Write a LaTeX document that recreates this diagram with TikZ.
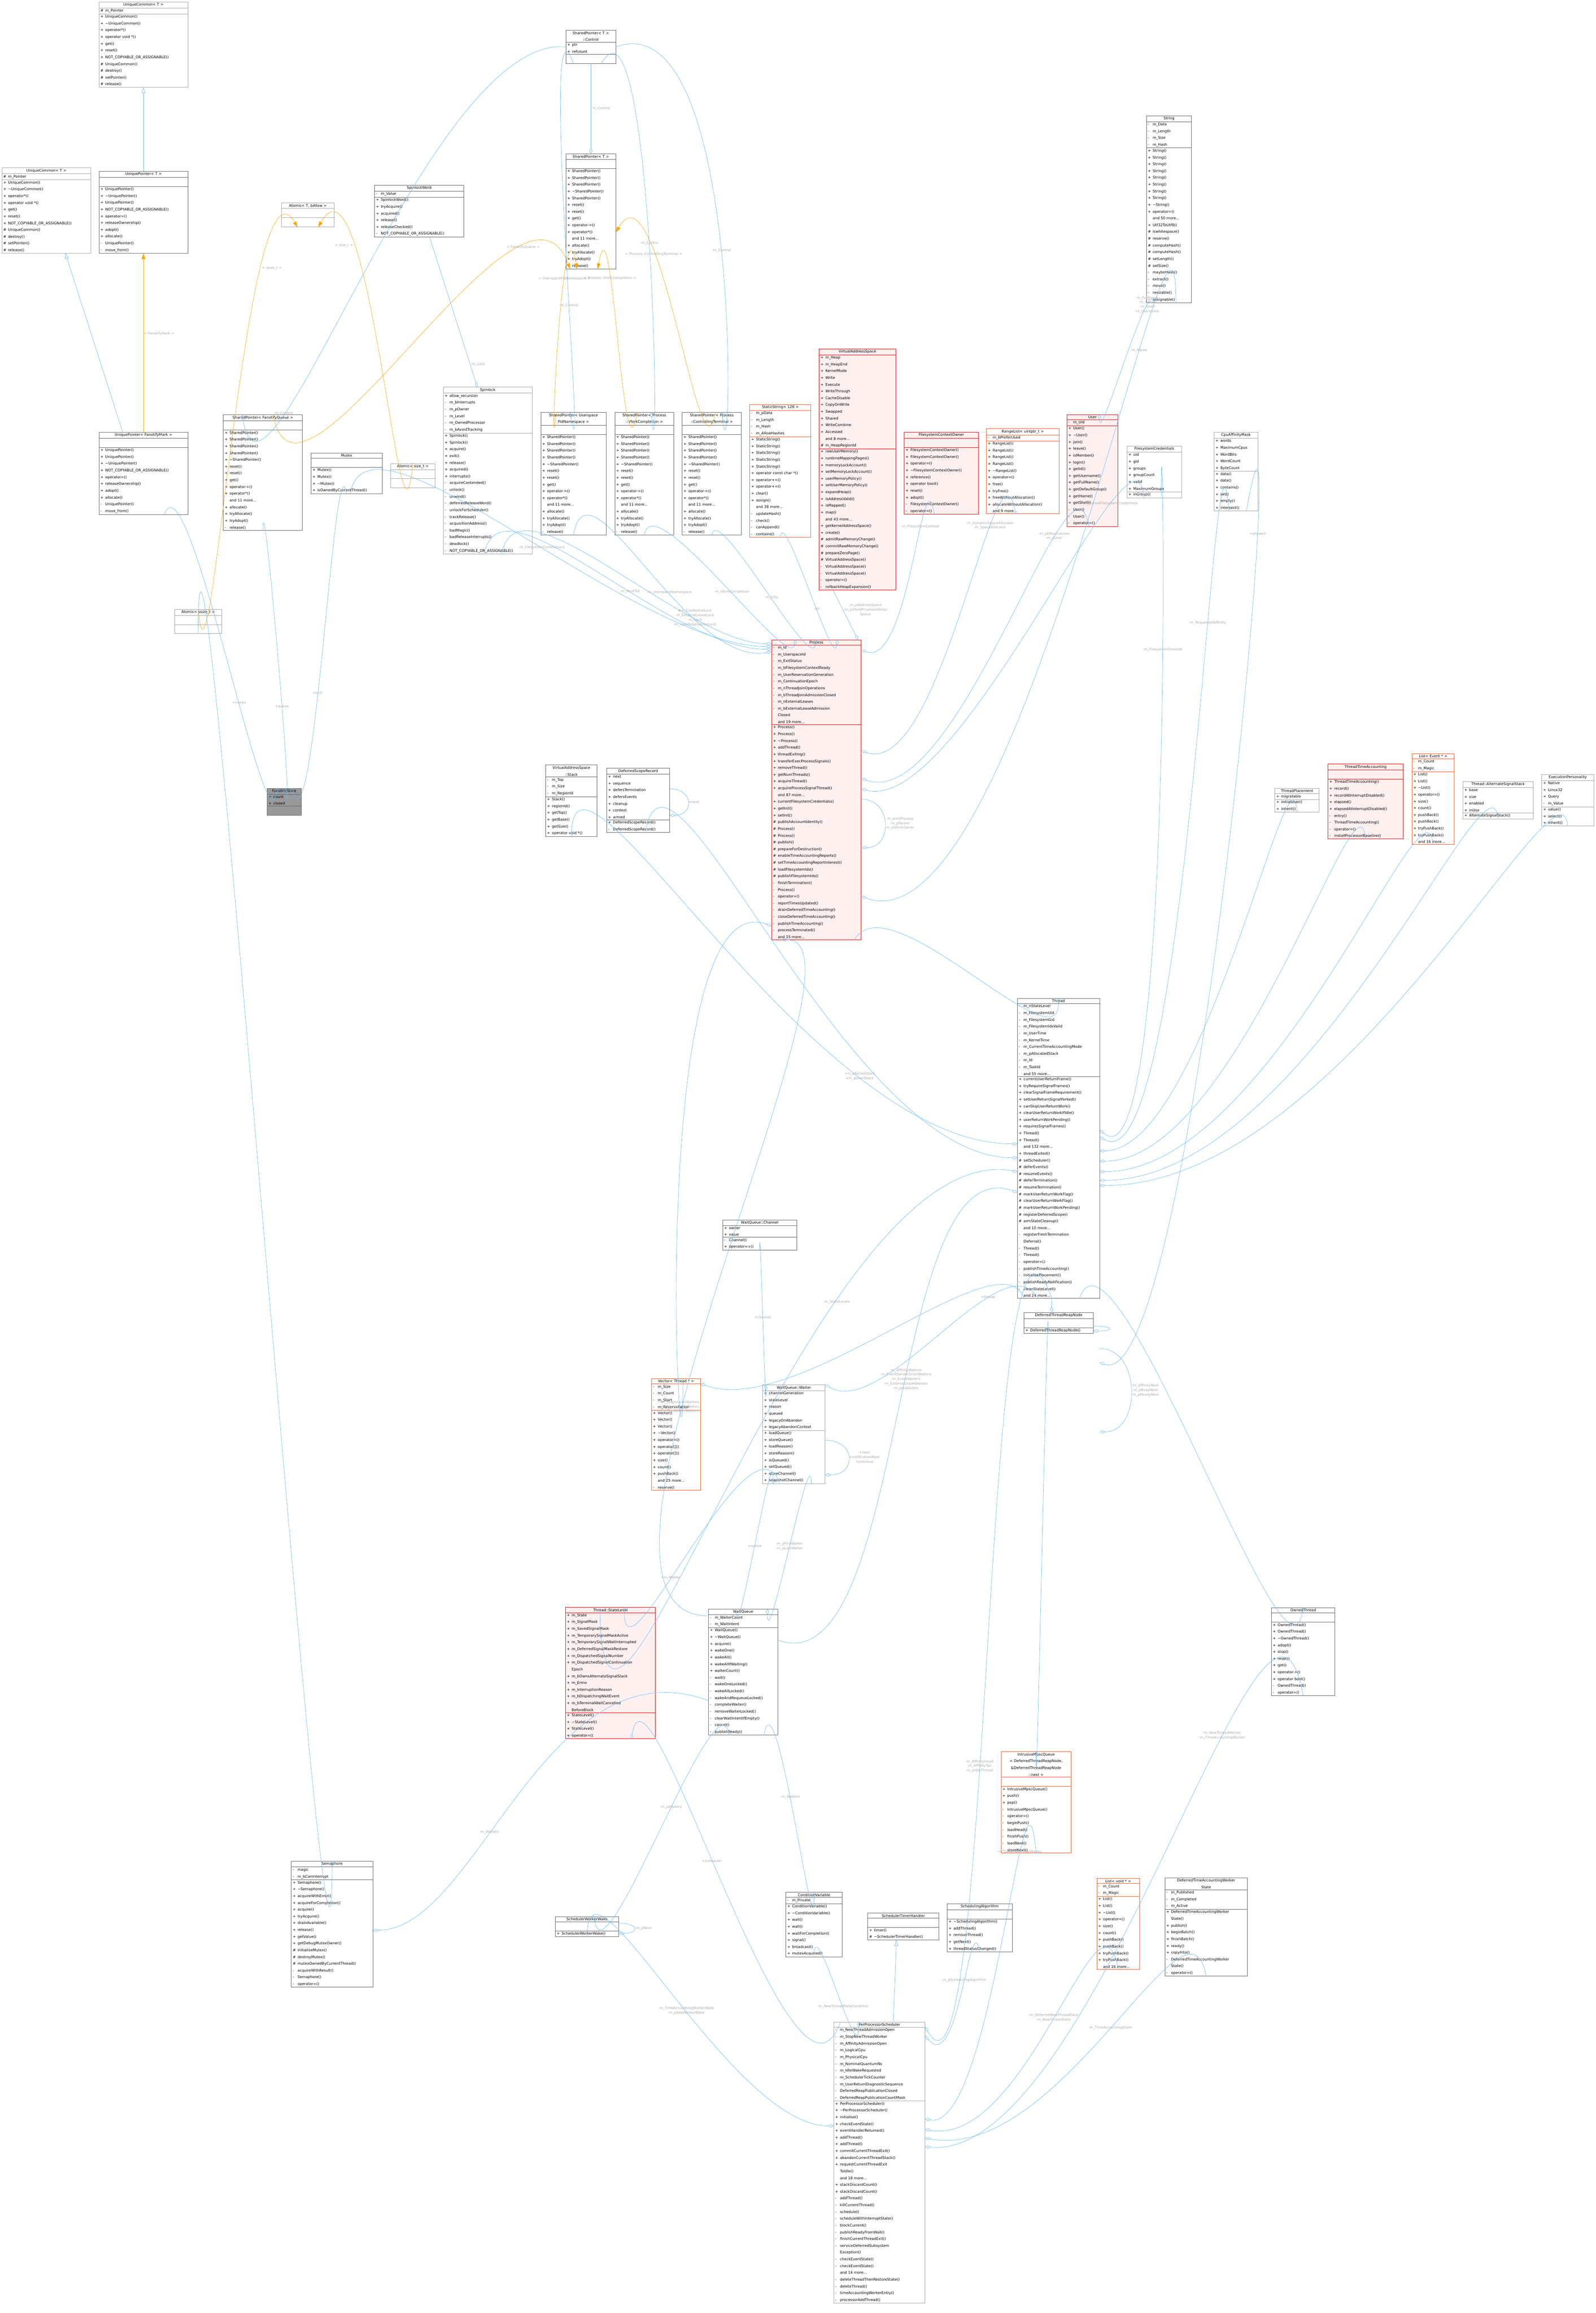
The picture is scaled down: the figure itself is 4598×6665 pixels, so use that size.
\documentclass[tikz,border=0pt]{standalone}
\usepackage{fontspec}
\setmainfont{DejaVu Sans}
\usetikzlibrary{shapes.multipart,arrows.meta,calc}
\definecolor{eblue}{HTML}{63B8FF}
\definecolor{eorange}{HTML}{FFA500}
\definecolor{lgray}{HTML}{A8A8A8}
\definecolor{pinkbg}{HTML}{FFF0F0}
\definecolor{redb}{HTML}{FF0000}
\definecolor{orb}{HTML}{FF5A28}
\newcommand\cf{\fontsize{10.5}{19.5}\selectfont}
\newcommand\mm[2]{\mbox{\makebox[14pt][l]{#1}#2}}
\newcommand\ti[1]{\makebox[\linewidth][c]{#1}}
\newcommand\cls[8]{\node[cls,#5,text width={#4-8}] (#1) at (#2,#3) {#6\nodepart{two}#7\nodepart{three}#8};}
\tikzset{
 cls/.style={draw, rectangle split, rectangle split parts=3, align=left, inner xsep=4pt, inner ysep=3pt, font=\cf, anchor=north west, line width=1pt, fill=white},
 gr/.style={draw=black!35},
 dk/.style={draw=black!60},
 rd/.style={draw=redb, fill=pinkbg},
 og/.style={draw=orb},
 fc/.style={draw=black!60, fill=black!40},
 agg/.style={draw=eblue, line width=0.9pt, -{Diamond[open,length=16pt,width=9pt]}},
 inh/.style={draw=eblue, line width=0.9pt, -{Triangle[open,length=16pt,width=11pt]}},
 tpl/.style={draw=eorange, line width=0.9pt, -{Triangle[length=16pt,width=11pt]}},
 lbl/.style={font=\fontsize{10}{13}\selectfont, text=lgray, align=center, inner sep=1pt}
}
\begin{document}
\begin{tikzpicture}[x=1pt,y=-1pt]
\useasboundingbox (0,0) rectangle (4598,6665);
% ---- classes ----
\cls{UCtop}{285}{5}{256}{gr}{\ti{UniqueCommon< T >}}{\mm{\#}{m\_Pointer}}{\mm{+}{UniqueCommon()}\\\mm{+}{\textasciitilde UniqueCommon()}\\\mm{+}{operator*()}\\\mm{+}{operator void *()}\\\mm{+}{get()}\\\mm{+}{reset()}\\\mm{+}{NOT\_COPYABLE\_OR\_ASSIGNABLE()}\\\mm{\#}{UniqueCommon()}\\\mm{\#}{destroy()}\\\mm{\#}{setPointer()}\\\mm{\#}{release()}}
\cls{UCleft}{5}{483}{256}{gr}{\ti{UniqueCommon< T >}}{\mm{\#}{m\_Pointer}}{\mm{+}{UniqueCommon()}\\\mm{+}{\textasciitilde UniqueCommon()}\\\mm{+}{operator*()}\\\mm{+}{operator void *()}\\\mm{+}{get()}\\\mm{+}{reset()}\\\mm{+}{NOT\_COPYABLE\_OR\_ASSIGNABLE()}\\\mm{\#}{UniqueCommon()}\\\mm{\#}{destroy()}\\\mm{\#}{setPointer()}\\\mm{\#}{release()}}
\cls{UPT}{285}{493}{256}{dk}{\ti{UniquePointer< T >}}{\strut}{\mm{+}{UniquePointer()}\\\mm{+}{\textasciitilde UniquePointer()}\\\mm{+}{UniquePointer()}\\\mm{+}{NOT\_COPYABLE\_OR\_ASSIGNABLE()}\\\mm{+}{operator=()}\\\mm{+}{releaseOwnership()}\\\mm{+}{adopt()}\\\mm{+}{allocate()}\\\mm{-}{UniquePointer()}\\\mm{-}{move\_from()}}
\cls{AtomicT}{811}{584}{151}{gr}{\ti{Atomic< T, bAllow >}}{\strut}{\strut}
\cls{SpinlockWord}{1079}{533}{257}{dk}{\ti{SpinlockWord}}{\mm{-}{m\_Value}}{\mm{+}{SpinlockWord()}\\\mm{+}{tryAcquire()}\\\mm{+}{acquired()}\\\mm{+}{release()}\\\mm{+}{releaseChecked()}\\\mm{-}{NOT\_COPYABLE\_OR\_ASSIGNABLE()}}
\cls{UPFM}{285}{1245}{256}{dk}{\ti{UniquePointer< FanotifyMark >}}{\strut}{\mm{+}{UniquePointer()}\\\mm{+}{UniquePointer()}\\\mm{+}{\textasciitilde UniquePointer()}\\\mm{+}{NOT\_COPYABLE\_OR\_ASSIGNABLE()}\\\mm{+}{operator=()}\\\mm{+}{releaseOwnership()}\\\mm{+}{adopt()}\\\mm{+}{allocate()}\\\mm{-}{UniquePointer()}\\\mm{-}{move\_from()}}
\cls{SPFQ}{643}{1195}{228}{dk}{\ti{SharedPointer< FanotifyQueue >}}{\strut}{\mm{+}{SharedPointer()}\\\mm{+}{SharedPointer()}\\\mm{+}{SharedPointer()}\\\mm{+}{SharedPointer()}\\\mm{+}{\textasciitilde SharedPointer()}\\\mm{+}{reset()}\\\mm{+}{reset()}\\\mm{+}{get()}\\\mm{+}{operator->()}\\\mm{+}{operator*()}\\\mm{}{and 11 more...}\\\mm{+}{allocate()}\\\mm{+}{tryAllocate()}\\\mm{+}{tryAdopt()}\\\mm{-}{release()}}
\cls{Mutex}{896}{1305}{205}{dk}{\ti{Mutex}}{\strut}{\mm{+}{Mutex()}\\\mm{+}{Mutex()}\\\mm{+}{\textasciitilde Mutex()}\\\mm{+}{isOwnedByCurrentThread()}}
\cls{AtomicSize}{1125}{1335}{128}{gr}{\ti{Atomic< size\_t >}}{\strut}{\strut}
\cls{AtomicSsize}{503}{1755}{135}{gr}{\ti{Atomic< ssize\_t >}}{\strut}{\strut}
\cls{Spinlock}{1277}{1115}{256}{gr}{\ti{Spinlock}}{\mm{+}{allow\_recursion}\\\mm{-}{m\_bInterrupts}\\\mm{-}{m\_pOwner}\\\mm{-}{m\_Level}\\\mm{-}{m\_OwnedProcessor}\\\mm{-}{m\_bAvoidTracking}}{\mm{+}{Spinlock()}\\\mm{+}{Spinlock()}\\\mm{+}{acquire()}\\\mm{+}{exit()}\\\mm{+}{release()}\\\mm{+}{acquired()}\\\mm{+}{interrupts()}\\\mm{-}{acquireContended()}\\\mm{-}{unlock()}\\\mm{-}{unwind()}\\\mm{-}{deferredReleaseWord()}\\\mm{-}{unlockForScheduler()}\\\mm{-}{trackRelease()}\\\mm{-}{acquisitionAddress()}\\\mm{-}{badMagic()}\\\mm{-}{badReleaseInterrupts()}\\\mm{-}{deadlock()}\\\mm{-}{NOT\_COPYABLE\_OR\_ASSIGNABLE()}}
\cls{SPUPN}{1558}{1188}{188}{dk}{\ti{SharedPointer< Userspace}\\\ti{PidNamespace >}}{\strut}{\mm{+}{SharedPointer()}\\\mm{+}{SharedPointer()}\\\mm{+}{SharedPointer()}\\\mm{+}{SharedPointer()}\\\mm{+}{\textasciitilde SharedPointer()}\\\mm{+}{reset()}\\\mm{+}{reset()}\\\mm{+}{get()}\\\mm{+}{operator->()}\\\mm{+}{operator*()}\\\mm{}{and 11 more...}\\\mm{+}{allocate()}\\\mm{+}{tryAllocate()}\\\mm{+}{tryAdopt()}\\\mm{-}{release()}}
\cls{SPVC}{1771}{1188}{170}{dk}{\ti{SharedPointer< Process}\\\ti{::VforkCompletion >}}{\strut}{\mm{+}{SharedPointer()}\\\mm{+}{SharedPointer()}\\\mm{+}{SharedPointer()}\\\mm{+}{SharedPointer()}\\\mm{+}{\textasciitilde SharedPointer()}\\\mm{+}{reset()}\\\mm{+}{reset()}\\\mm{+}{get()}\\\mm{+}{operator->()}\\\mm{+}{operator*()}\\\mm{}{and 11 more...}\\\mm{+}{allocate()}\\\mm{+}{tryAllocate()}\\\mm{+}{tryAdopt()}\\\mm{-}{release()}}
\cls{SPCT}{1965}{1188}{171}{dk}{\ti{SharedPointer< Process}\\\ti{::ControllingTerminal >}}{\strut}{\mm{+}{SharedPointer()}\\\mm{+}{SharedPointer()}\\\mm{+}{SharedPointer()}\\\mm{+}{SharedPointer()}\\\mm{+}{\textasciitilde SharedPointer()}\\\mm{+}{reset()}\\\mm{+}{reset()}\\\mm{+}{get()}\\\mm{+}{operator->()}\\\mm{+}{operator*()}\\\mm{}{and 11 more...}\\\mm{+}{allocate()}\\\mm{+}{tryAllocate()}\\\mm{+}{tryAdopt()}\\\mm{-}{release()}}
\cls{StaticString}{2160}{1165}{176}{og}{\ti{StaticString< 128 >}}{\mm{-}{m\_pData}\\\mm{-}{m\_Length}\\\mm{-}{m\_Hash}\\\mm{-}{m\_AllowHashes}}{\mm{+}{StaticString()}\\\mm{+}{StaticString()}\\\mm{+}{StaticString()}\\\mm{+}{StaticString()}\\\mm{+}{StaticString()}\\\mm{+}{operator const char *()}\\\mm{+}{operator+=()}\\\mm{+}{operator+=()}\\\mm{+}{clear()}\\\mm{+}{assign()}\\\mm{}{and 38 more...}\\\mm{-}{updateHash()}\\\mm{-}{check()}\\\mm{-}{canAppend()}\\\mm{-}{contains()}}
\cls{Control}{1630}{87}{144}{dk}{\ti{SharedPointer< T >}\\\ti{::Control}}{\mm{+}{ptr}\\\mm{+}{refcount}}{\strut}
\cls{SPT}{1630}{443}{144}{dk}{\ti{SharedPointer< T >}}{\strut}{\mm{+}{SharedPointer()}\\\mm{+}{SharedPointer()}\\\mm{+}{SharedPointer()}\\\mm{+}{\textasciitilde SharedPointer()}\\\mm{+}{SharedPointer()}\\\mm{+}{reset()}\\\mm{+}{reset()}\\\mm{+}{get()}\\\mm{+}{operator->()}\\\mm{+}{operator*()}\\\mm{}{and 11 more...}\\\mm{+}{allocate()}\\\mm{+}{tryAllocate()}\\\mm{+}{tryAdopt()}\\\mm{-}{release()}}
\cls{String}{3303}{333}{130}{dk}{\ti{String}}{\mm{-}{m\_Data}\\\mm{-}{m\_Length}\\\mm{-}{m\_Size}\\\mm{-}{m\_Hash}}{\mm{+}{String()}\\\mm{+}{String()}\\\mm{+}{String()}\\\mm{+}{String()}\\\mm{+}{String()}\\\mm{+}{String()}\\\mm{+}{String()}\\\mm{+}{String()}\\\mm{+}{\textasciitilde String()}\\\mm{+}{operator=()}\\\mm{}{and 50 more...}\\\mm{+}{Utf32ToUtf8()}\\\mm{\#}{iswhitespace()}\\\mm{\#}{reserve()}\\\mm{\#}{computeHash()}\\\mm{\#}{computeHash()}\\\mm{\#}{setLength()}\\\mm{\#}{setSize()}\\\mm{-}{maybeHash()}\\\mm{-}{extract()}\\\mm{-}{move()}\\\mm{-}{resizable()}\\\mm{-}{assignable()}}
\cls{VAS}{2360}{1005}{220}{rd}{\ti{VirtualAddressSpace}}{\mm{+}{m\_Heap}\\\mm{+}{m\_HeapEnd}\\\mm{+}{KernelMode}\\\mm{+}{Write}\\\mm{+}{Execute}\\\mm{+}{WriteThrough}\\\mm{+}{CacheDisable}\\\mm{+}{CopyOnWrite}\\\mm{+}{Swapped}\\\mm{+}{Shared}\\\mm{+}{WriteCombine}\\\mm{+}{Accessed}\\\mm{}{and 8 more...}\\\mm{\#}{m\_HeapRegionId}}{\mm{+}{rawUserMemory()}\\\mm{+}{runtimeMappingPages()}\\\mm{+}{memoryLockAccount()}\\\mm{+}{setMemoryLockAccount()}\\\mm{+}{userMemoryPolicy()}\\\mm{+}{setUserMemoryPolicy()}\\\mm{+}{expandHeap()}\\\mm{+}{isAddressValid()}\\\mm{+}{isMapped()}\\\mm{+}{map()}\\\mm{}{and 43 more...}\\\mm{+}{getKernelAddressSpace()}\\\mm{+}{create()}\\\mm{\#}{admitRawMemoryChange()}\\\mm{\#}{commitRawMemoryChange()}\\\mm{\#}{prepareZeroPage()}\\\mm{\#}{VirtualAddressSpace()}\\\mm{-}{VirtualAddressSpace()}\\\mm{-}{VirtualAddressSpace()}\\\mm{-}{operator=()}\\\mm{-}{rollbackHeapExpansion()}}
\cls{FCO}{2605}{1245}{214}{rd}{\ti{FilesystemContextOwner}}{\strut}{\mm{+}{FilesystemContextOwner()}\\\mm{+}{FilesystemContextOwner()}\\\mm{+}{operator=()}\\\mm{+}{\textasciitilde FilesystemContextOwner()}\\\mm{+}{reference()}\\\mm{+}{operator bool()}\\\mm{+}{reset()}\\\mm{+}{adopt()}\\\mm{-}{FilesystemContextOwner()}\\\mm{-}{operator=()}}
\cls{RangeList}{2842}{1235}{209}{og}{\ti{RangeList< uintptr\_t >}}{\mm{-}{m\_bPreferUsed}}{\mm{+}{RangeList()}\\\mm{+}{RangeList()}\\\mm{+}{RangeList()}\\\mm{+}{RangeList()}\\\mm{+}{\textasciitilde RangeList()}\\\mm{+}{operator=()}\\\mm{+}{free()}\\\mm{+}{tryFree()}\\\mm{+}{freeWithoutAllocation()}\\\mm{+}{allocateWithoutAllocation()}\\\mm{}{and 9 more...}}
\cls{User}{3074}{1194}{147}{rd}{\ti{User}}{\mm{-}{m\_Uid}}{\mm{+}{User()}\\\mm{+}{\textasciitilde User()}\\\mm{+}{join()}\\\mm{+}{leave()}\\\mm{+}{isMember()}\\\mm{+}{login()}\\\mm{+}{getId()}\\\mm{+}{getUsername()}\\\mm{+}{getFullName()}\\\mm{+}{getDefaultGroup()}\\\mm{+}{getHome()}\\\mm{+}{getShell()}\\\mm{-}{User()}\\\mm{-}{User()}\\\mm{-}{operator=()}}
\cls{FSC}{3247}{1285}{157}{gr}{\ti{FilesystemCredentials}}{\mm{+}{uid}\\\mm{+}{gid}\\\mm{+}{groups}\\\mm{+}{groupCount}\\\mm{+}{valid}\\\mm{+}{MaximumGroups}}{\mm{+}{inGroup()}}
\cls{CPU}{3498}{1245}{126}{gr}{\ti{CpuAffinityMask}}{\mm{+}{words}\\\mm{+}{MaximumCpus}\\\mm{+}{WordBits}\\\mm{+}{WordCount}\\\mm{+}{ByteCount}}{\mm{+}{data()}\\\mm{+}{data()}\\\mm{+}{contains()}\\\mm{+}{set()}\\\mm{+}{empty()}\\\mm{+}{intersect()}}
\cls{Process}{2223}{1843}{258}{rd}{\ti{Process}}{\mm{-}{m\_Id}\\\mm{-}{m\_UserspaceId}\\\mm{-}{m\_ExitStatus}\\\mm{-}{m\_bFilesystemContextReady}\\\mm{-}{m\_UserReservationGeneration}\\\mm{-}{m\_ContinuationEpoch}\\\mm{-}{m\_nThreadJoinOperations}\\\mm{-}{m\_bThreadJoinAdmissionClosed}\\\mm{-}{m\_nExternalLeases}\\\mm{-}{m\_bExternalLeaseAdmission}\\\mm{}{Closed}\\\mm{}{and 19 more...}}{\mm{+}{Process()}\\\mm{+}{Process()}\\\mm{+}{\textasciitilde Process()}\\\mm{+}{addThread()}\\\mm{+}{threadExiting()}\\\mm{+}{transferExecProcessSignals()}\\\mm{+}{removeThread()}\\\mm{+}{getNumThreads()}\\\mm{+}{acquireThread()}\\\mm{+}{acquireProcessSignalThread()}\\\mm{}{and 87 more...}\\\mm{+}{currentFilesystemCredentials()}\\\mm{+}{getInit()}\\\mm{+}{setInit()}\\\mm{\#}{publishAccountIdentity()}\\\mm{\#}{Process()}\\\mm{\#}{Process()}\\\mm{\#}{publish()}\\\mm{\#}{prepareForDestruction()}\\\mm{\#}{enableTimeAccountingReports()}\\\mm{\#}{setTimeAccountingReportInterest()}\\\mm{\#}{loadFilesystemIds()}\\\mm{\#}{publishFilesystemIds()}\\\mm{-}{finishTermination()}\\\mm{-}{Process()}\\\mm{-}{operator=()}\\\mm{-}{reportTimesUpdated()}\\\mm{-}{drainDeferredTimeAccounting()}\\\mm{-}{closeDeferredTimeAccounting()}\\\mm{-}{publishTimeAccounting()}\\\mm{-}{processTerminated()}\\\mm{}{and 15 more...}}
\cls{Stack}{1572}{2204}{148}{dk}{\ti{VirtualAddressSpace}\\\ti{::Stack}}{\mm{-}{m\_Top}\\\mm{-}{m\_Size}\\\mm{-}{m\_RegionId}}{\mm{+}{Stack()}\\\mm{+}{regionId()}\\\mm{+}{getTop()}\\\mm{+}{getBase()}\\\mm{+}{getSize()}\\\mm{+}{operator void *()}}
\cls{DSR}{1748}{2213}{181}{dk}{\ti{DeferredScopeRecord}}{\mm{+}{next}\\\mm{+}{sequence}\\\mm{+}{defersTermination}\\\mm{+}{defersEvents}\\\mm{+}{cleanup}\\\mm{+}{context}\\\mm{+}{armed}}{\mm{+}{DeferredScopeRecord()}\\\mm{-}{DeferredScopeRecord()}}
\cls{TP}{3673}{2271}{128}{gr}{\ti{ThreadPlacement}}{\mm{+}{migratable}}{\mm{+}{initialUser()}\\\mm{+}{inherit()}}
\cls{TTA}{3826}{2201}{217}{rd}{\ti{ThreadTimeAccounting}}{\strut}{\mm{+}{ThreadTimeAccounting()}\\\mm{+}{record()}\\\mm{+}{recordAtInterruptDisabled()}\\\mm{+}{elapsed()}\\\mm{+}{elapsedAtInterruptDisabled()}\\\mm{-}{entry()}\\\mm{-}{ThreadTimeAccounting()}\\\mm{-}{operator=()}\\\mm{-}{installProcessorBaseline()}}
\cls{ListEvent}{4068}{2171}{122}{og}{\ti{List< Event * >}}{\mm{-}{m\_Count}\\\mm{-}{m\_Magic}}{\mm{+}{List()}\\\mm{+}{List()}\\\mm{+}{\textasciitilde List()}\\\mm{+}{operator=()}\\\mm{+}{size()}\\\mm{+}{count()}\\\mm{+}{pushBack()}\\\mm{+}{pushBack()}\\\mm{+}{tryPushBack()}\\\mm{+}{tryPushBack()}\\\mm{}{and 16 more...}}
\cls{ASS}{4215}{2251}{202}{gr}{\ti{Thread::AlternateSignalStack}}{\mm{+}{base}\\\mm{+}{size}\\\mm{+}{enabled}\\\mm{+}{inUse}}{\mm{+}{AlternateSignalStack()}}
\cls{EP}{4442}{2231}{150}{gr}{\ti{ExecutionPersonality}}{\mm{+}{Native}\\\mm{+}{Linux32}\\\mm{+}{Query}\\\mm{-}{m\_Value}}{\mm{+}{value()}\\\mm{+}{select()}\\\mm{+}{inherit()}}
\cls{Thread}{2931}{2876}{237}{dk}{\ti{Thread}}{\mm{-}{m\_nStateLevel}\\\mm{-}{m\_FilesystemUid}\\\mm{-}{m\_FilesystemGid}\\\mm{-}{m\_FilesystemIdsValid}\\\mm{-}{m\_UserTime}\\\mm{-}{m\_KernelTime}\\\mm{-}{m\_CurrentTimeAccountingMode}\\\mm{-}{m\_pAllocatedStack}\\\mm{-}{m\_Id}\\\mm{-}{m\_TaskId}\\\mm{}{and 55 more...}}{\mm{+}{currentUserReturnFrame()}\\\mm{+}{tryRequireSignalFrames()}\\\mm{+}{clearSignalFrameRequirement()}\\\mm{+}{setUserReturnSignalParked()}\\\mm{+}{canSkipUserReturnWork()}\\\mm{+}{clearUserReturnWorkIfIdle()}\\\mm{+}{userReturnWorkPending()}\\\mm{+}{requiresSignalFrames()}\\\mm{+}{Thread()}\\\mm{+}{Thread()}\\\mm{}{and 132 more...}\\\mm{+}{threadExited()}\\\mm{\#}{setScheduler()}\\\mm{\#}{deferEvents()}\\\mm{\#}{resumeEvents()}\\\mm{\#}{deferTermination()}\\\mm{\#}{resumeTermination()}\\\mm{\#}{markUserReturnWorkFlag()}\\\mm{\#}{clearUserReturnWorkFlag()}\\\mm{\#}{markUserReturnWorkPending()}\\\mm{\#}{registerDeferredScope()}\\\mm{\#}{armStateCleanup()}\\\mm{}{and 10 more...}\\\mm{-}{registerFreshTermination}\\\mm{}{Deferral()}\\\mm{-}{Thread()}\\\mm{-}{Thread()}\\\mm{-}{operator=()}\\\mm{-}{publishTimeAccounting()}\\\mm{-}{initialisePlacement()}\\\mm{-}{publishReadyNotification()}\\\mm{-}{cleanStateLevel()}\\\mm{}{and 24 more...}}
\cls{Channel}{2082}{3515}{213}{dk}{\ti{WaitQueue::Channel}}{\mm{+}{owner}\\\mm{+}{value}}{\mm{-}{Channel()}\\\mm{+}{operator==()}}
\cls{Vector}{1877}{3972}{141}{og}{\ti{Vector< Thread * >}}{\mm{-}{m\_Size}\\\mm{-}{m\_Count}\\\mm{-}{m\_Start}\\\mm{-}{m\_ReserveFactor}}{\mm{+}{Vector()}\\\mm{+}{Vector()}\\\mm{+}{Vector()}\\\mm{+}{\textasciitilde Vector()}\\\mm{+}{operator=()}\\\mm{+}{operator[]()}\\\mm{+}{operator[]()}\\\mm{+}{size()}\\\mm{+}{count()}\\\mm{+}{pushBack()}\\\mm{}{and 25 more...}\\\mm{-}{reserve()}}
\cls{Waiter}{2197}{3990}{180}{gr}{\ti{WaitQueue::Waiter}}{\mm{+}{channelGeneration}\\\mm{+}{stateLevel}\\\mm{+}{reason}\\\mm{+}{queued}\\\mm{+}{legacyOnAbandon}\\\mm{+}{legacyAbandonContext}}{\mm{+}{loadQueue()}\\\mm{+}{storeQueue()}\\\mm{+}{loadReason()}\\\mm{+}{storeReason()}\\\mm{+}{isQueued()}\\\mm{+}{setQueued()}\\\mm{+}{storeChannel()}\\\mm{+}{snapshotChannel()}}
\node[cls,dk,text width=192pt,anchor=north west] (DTRN) at ($(Thread.south west)+(19,40)$) {\ti{DeferredThreadReapNode}\nodepart{two}\strut\nodepart{three}\mm{+}{DeferredThreadReapNode()}};
\cls{SL}{1629}{4631}{259}{rd}{\ti{Thread::StateLevel}}{\mm{+}{m\_State}\\\mm{+}{m\_SignalMask}\\\mm{+}{m\_SavedSignalMask}\\\mm{+}{m\_TemporarySignalMaskActive}\\\mm{+}{m\_TemporarySignalWaitInterrupted}\\\mm{+}{m\_DeferredSignalMaskRestore}\\\mm{+}{m\_DispatchedSignalNumber}\\\mm{+}{m\_DispatchedSignalContinuation}\\\mm{}{Epoch}\\\mm{+}{m\_bOwnsAlternateSignalStack}\\\mm{+}{m\_Errno}\\\mm{+}{m\_InterruptionReason}\\\mm{+}{m\_bDispatchingWaitEvent}\\\mm{+}{m\_bTerminalWaitCancelled}\\\mm{}{BeforeBlock}}{\mm{+}{StateLevel()}\\\mm{+}{\textasciitilde StateLevel()}\\\mm{+}{StateLevel()}\\\mm{+}{operator=()}}
\cls{WQ}{2041}{4636}{200}{dk}{\ti{WaitQueue}}{\mm{-}{m\_WaiterCount}\\\mm{-}{m\_WaitIntent}}{\mm{+}{WaitQueue()}\\\mm{+}{\textasciitilde WaitQueue()}\\\mm{+}{acquire()}\\\mm{+}{wakeOne()}\\\mm{+}{wakeAll()}\\\mm{+}{wakeAllIfWaiting()}\\\mm{+}{waiterCount()}\\\mm{-}{wait()}\\\mm{-}{wakeOneLocked()}\\\mm{-}{wakeAllLocked()}\\\mm{-}{wakeAndRequeueLocked()}\\\mm{-}{completeWaiter()}\\\mm{-}{removeWaiterLocked()}\\\mm{-}{clearWaitIntentIfEmpty()}\\\mm{-}{cancel()}\\\mm{-}{publishReady()}}
\cls{OT}{3663}{4632}{183}{dk}{\ti{OwnedThread}}{\strut}{\mm{+}{OwnedThread()}\\\mm{+}{OwnedThread()}\\\mm{+}{\textasciitilde OwnedThread()}\\\mm{+}{adopt()}\\\mm{+}{stop()}\\\mm{+}{reset()}\\\mm{+}{get()}\\\mm{+}{operator->()}\\\mm{+}{operator bool()}\\\mm{-}{OwnedThread()}\\\mm{-}{operator=()}}
\cls{IMQ}{2884}{5047}{202}{og}{\ti{IntrusiveMpscQueue}\\\ti{< DeferredThreadReapNode,}\\\ti{\&DeferredThreadReapNode}\\\ti{::next >}}{\strut}{\mm{+}{IntrusiveMpscQueue()}\\\mm{+}{push()}\\\mm{+}{pop()}\\\mm{-}{IntrusiveMpscQueue()}\\\mm{-}{operator=()}\\\mm{-}{beginPush()}\\\mm{-}{loadHead()}\\\mm{-}{finishPush()}\\\mm{-}{loadNext()}\\\mm{-}{storeNext()}}
\cls{Sem}{839}{5362}{235}{dk}{\ti{Semaphore}}{\mm{-}{magic}\\\mm{-}{m\_bCanInterrupt}}{\mm{+}{Semaphore()}\\\mm{+}{\textasciitilde Semaphore()}\\\mm{+}{acquireWithError()}\\\mm{+}{acquireForCompletion()}\\\mm{+}{acquire()}\\\mm{+}{tryAcquire()}\\\mm{+}{drainAvailable()}\\\mm{+}{release()}\\\mm{+}{getValue()}\\\mm{+}{getDebugMutexOwner()}\\\mm{\#}{initialiseMutex()}\\\mm{\#}{destroyMutex()}\\\mm{\#}{mutexOwnedByCurrentThread()}\\\mm{-}{acquireWithResult()}\\\mm{-}{Semaphore()}\\\mm{-}{operator=()}}
\cls{SWW}{1600}{5522}{182}{dk}{\ti{SchedulerWorkerWake}}{\strut}{\mm{+}{SchedulerWorkerWake()}}
\cls{CV}{2264}{5452}{162}{dk}{\ti{ConditionVariable}}{\mm{-}{m\_Private}}{\mm{+}{ConditionVariable()}\\\mm{+}{\textasciitilde ConditionVariable()}\\\mm{+}{wait()}\\\mm{+}{wait()}\\\mm{+}{waitForCompletion()}\\\mm{+}{signal()}\\\mm{+}{broadcast()}\\\mm{+}{mutexAcquired()}}
\cls{STH}{2500}{5512}{205}{dk}{\ti{SchedulerTimerHandler}}{\strut}{\mm{+}{timer()}\\\mm{\#}{\textasciitilde SchedulerTimerHandler()}}
\cls{SA}{2729}{5485}{187}{dk}{\ti{SchedulingAlgorithm}}{\strut}{\mm{+}{\textasciitilde SchedulingAlgorithm()}\\\mm{+}{addThread()}\\\mm{+}{removeThread()}\\\mm{+}{getNext()}\\\mm{+}{threadStatusChanged()}}
\cls{ListVoid}{3160}{5412}{123}{og}{\ti{List< void * >}}{\mm{-}{m\_Count}\\\mm{-}{m\_Magic}}{\mm{+}{List()}\\\mm{+}{List()}\\\mm{+}{\textasciitilde List()}\\\mm{+}{operator=()}\\\mm{+}{size()}\\\mm{+}{count()}\\\mm{+}{pushBack()}\\\mm{+}{pushBack()}\\\mm{+}{tryPushBack()}\\\mm{+}{tryPushBack()}\\\mm{}{and 16 more...}}
\cls{DTAWS}{3356}{5410}{238}{dk}{\ti{DeferredTimeAccountingWorker}\\\ti{State}}{\mm{-}{m\_Published}\\\mm{-}{m\_Completed}\\\mm{-}{m\_Active}}{\mm{+}{DeferredTimeAccountingWorker}\\\mm{}{State()}\\\mm{+}{publish()}\\\mm{+}{beginBatch()}\\\mm{+}{finishBatch()}\\\mm{+}{ready()}\\\mm{+}{copyInto()}\\\mm{-}{DeferredTimeAccountingWorker}\\\mm{}{State()}\\\mm{-}{operator=()}}
\cls{PPS}{2402}{5826}{263}{gr}{\ti{PerProcessorScheduler}}{\mm{-}{m\_NewThreadAdmissionOpen}\\\mm{-}{m\_StopNewThreadWorker}\\\mm{-}{m\_AffinityAdmissionOpen}\\\mm{-}{m\_LogicalCpu}\\\mm{-}{m\_PhysicalCpu}\\\mm{-}{m\_NominalQuantumNs}\\\mm{-}{m\_IdleWakeRequested}\\\mm{-}{m\_SchedulerTickCounter}\\\mm{-}{m\_UserReturnDiagnosticSequence}\\\mm{-}{DeferredReapPublicationClosed}\\\mm{-}{DeferredReapPublicationCountMask}}{\mm{+}{PerProcessorScheduler()}\\\mm{+}{\textasciitilde PerProcessorScheduler()}\\\mm{+}{initialise()}\\\mm{+}{checkEventState()}\\\mm{+}{eventHandlerReturned()}\\\mm{+}{addThread()}\\\mm{+}{addThread()}\\\mm{+}{commitCurrentThreadExit()}\\\mm{+}{abandonCurrentThreadStack()}\\\mm{+}{requestCurrentThreadExit}\\\mm{}{ToIdle()}\\\mm{}{and 18 more...}\\\mm{+}{stackDiscardCount()}\\\mm{+}{stackDiscardCount()}\\\mm{-}{addThread()}\\\mm{-}{killCurrentThread()}\\\mm{-}{schedule()}\\\mm{-}{scheduleWithInterruptState()}\\\mm{-}{blockCurrent()}\\\mm{-}{publishReadyFromWait()}\\\mm{-}{finishCurrentThreadExit()}\\\mm{-}{serviceDeferredSubsystem}\\\mm{}{Exception()}\\\mm{-}{checkEventState()}\\\mm{-}{checkEventState()}\\\mm{}{and 14 more...}\\\mm{-}{deleteThreadThenRestoreState()}\\\mm{-}{deleteThread()}\\\mm{-}{timeAccountingWorkerEntry()}\\\mm{-}{processorAddThread()}}
\cls{Focus}{769}{2271}{99}{fc}{\ti{FanotifyState}}{\mm{+}{count}\\\mm{+}{closed}}{\strut}
% ---- inheritance / template ----
\draw[inh] (UPT.north) -- (UCtop.south);
\draw[inh] ($(UPFM.north)+(-60,0)$) -- ($(UCleft.south)+(55,0)$);
\draw[tpl] (UPFM.north) -- (UPT.south) node[lbl,right,pos=0.55]{< FanotifyMark >};
\draw[tpl] (AtomicSsize.north) .. controls +(85:400) and +(240:300) .. ($(AtomicT.south)+(-30,0)$) node[lbl,pos=0.75,right]{< ssize\_t >};
\draw[tpl] (AtomicSize.north) .. controls +(95:400) and +(300:300) .. ($(AtomicT.south)+(30,0)$) node[lbl,pos=0.75,left]{< size\_t >};
\draw[tpl] ($(SPFQ.north)+(30,0)$) .. controls +(80:400) and +(250:400) .. ($(SPT.south)+(-60,0)$) node[lbl,pos=0.8]{< FanotifyQueue >};
\draw[tpl] ($(SPUPN.north)+(-50,0)$) .. controls +(95:250) and +(260:250) .. ($(SPT.south)+(-40,0)$) node[lbl,pos=0.7]{< UserspacePidNamespace >};
\draw[tpl] ($(SPVC.north)+(-20,0)$) .. controls +(100:250) and +(280:250) .. ($(SPT.south)+(20,0)$) node[lbl,pos=0.7]{< Process::VforkCompletion >};
\draw[tpl] ($(SPCT.north)+(10,0)$) .. controls +(100:250) and +(300:250) .. ($(SPT.east)+(0,60)$) node[lbl,pos=0.7]{< Process::ControllingTerminal >};
\draw[inh] ($(PPS.north)+(40,0)$) -- ($(STH.south)+(-20,0)$);
% ---- aggregation ----
\draw[agg] (Control.south) -- (SPT.north) node[lbl,right,pos=0.5]{-m\_Control};
\draw[agg] (Control.west) .. controls +(185:400) and +(80:400) .. ($(SPFQ.north)+(-60,0)$) node[lbl,pos=0.75]{-m\_Control};
\draw[agg] ($(Control.south)+(-50,0)$) .. controls +(250:300) and +(80:300) .. ($(SPUPN.north)+(-10,0)$) node[lbl,pos=0.6]{-m\_Control};
\draw[agg] ($(Control.south)+(30,0)$) .. controls +(300:300) and +(85:300) .. ($(SPVC.north)+(20,0)$) node[lbl,pos=0.5]{-m\_Contro};
\draw[agg] (Control.east) .. controls +(-20:400) and +(85:300) .. ($(SPCT.north)+(30,0)$) node[lbl,pos=0.5]{-m\_Control};
\draw[agg] ($(SpinlockWord.south)+(30,0)$) -- ($(Spinlock.north)+(-30,0)$) node[lbl,right,pos=0.85]{-m\_Lock};
\draw[agg] ($(UPFM.south)+(60,0)$) .. controls +(-70:200) and +(100:200) .. ($(Focus.north)+(-20,0)$) node[lbl,pos=0.6]{+marks};
\draw[agg] (SPFQ.south) .. controls +(-90:200) and +(80:200) .. (Focus.north) node[lbl,pos=0.6]{+queue};
\draw[agg] (Mutex.south) .. controls +(-100:200) and +(70:200) .. ($(Focus.north)+(20,0)$) node[lbl,pos=0.6]{+lock};
\draw[agg] (AtomicSsize.south) .. controls +(-90:1000) and +(90:1000) .. (Sem.north);
\draw[agg] ($(Spinlock.south)+(40,0)$) .. controls +(-80:250) and +(180:250) .. ($(Process.north west)+(0,12)$) node[lbl,pos=0.75]{\#m\_CredentialLock\\-m\_ExternalLeaseLock\\-m\_Lock\\-m\_UserReservationLock};
\draw[agg] ($(Mutex.south)+(10,0)$) .. controls +(-80:300) and +(180:400) .. ($(Process.north west)+(0,20)$) node[lbl,pos=0.55]{-m\_FilesystemContextLock};
\draw[agg] ($(Spinlock.south)+(-10,0)$) .. controls +(-80:250) and +(180:300) .. ($(Process.north west)+(0,28)$) node[lbl,pos=0.6]{-m\_NextTid};
\draw[agg] (SPUPN.south) .. controls +(-80:250) and +(170:250) .. ($(Process.north west)+(0,35)$) node[lbl,pos=0.6]{-m\_UserspaceNamespace};
\draw[agg] (SPVC.south) .. controls +(-80:150) and +(100:100) .. ($(Process.north)+(-60,0)$) node[lbl,pos=0.55]{-m\_VforkCompletion};
\draw[agg] (SPCT.south) .. controls +(-80:100) and +(100:100) .. ($(Process.north)+(0,0)$) node[lbl,pos=0.55]{-m\_Ctty};
\draw[agg] (StaticString.south) .. controls +(-85:100) and +(95:100) .. ($(Process.north)+(60,0)$) node[lbl,pos=0.6]{-str};
\draw[agg] ($(VAS.south)+(-70,0)$) -- ($(Process.north east)+(-10,0)$) node[lbl,right,pos=0.4]{-m\_pAddressSpace\\-m\_pVforkPrivateAddress\\Space};
\draw[agg] ($(FCO.south)+(-20,0)$) .. controls +(-100:200) and +(20:150) .. ($(Process.north east)+(0,30)$) node[lbl,pos=0.35]{-m\_FilesystemContext};
\draw[agg] ($(RangeList.south)+(-20,0)$) .. controls +(-100:300) and +(20:250) .. ($(Process.north east)+(0,320)$) node[lbl,pos=0.3]{-m\_DynamicSpaceAllocator\\-m\_SpaceAllocator};
\draw[agg] ($(User.south)+(-10,0)$) .. controls +(-100:300) and +(20:300) .. ($(Process.north east)+(0,400)$) node[lbl,pos=0.28]{-m\_pEffectiveUser\\-m\_pUser};
\draw[agg] ($(FSC.south)+(-30,0)$) .. controls +(-95:300) and +(15:300) .. ($(Process.north east)+(0,430)$) node[lbl,pos=0.25]{-m\_NativeFilesystemCredentials};
\draw[agg] ($(String.south)+(-40,0)$) .. controls +(-100:100) and +(90:100) .. ($(User.north)+(20,0)$) node[lbl,pos=0.2]{-m\_FullName\\-m\_Home\\-m\_Shell\\-m\_Username};
\draw[agg] ($(String.south)+(20,0)$) .. controls +(-90:600) and +(20:500) .. ($(Process.north east)+(0,740)$) node[lbl,pos=0.3]{-m\_Name};
\draw[agg] ($(CPU.south)+(30,0)$) .. controls +(-80:800) and +(20:300) .. ($(Thread.north east)+(0,1050)$) node[lbl,pos=0.25]{+allowed};
\draw[agg] ($(CPU.south)+(-20,0)$) .. controls +(-95:500) and +(30:300) .. ($(Thread.north east)+(0,400)$) node[lbl,pos=0.35]{-m\_RequestedAffinity};
\draw[agg] ($(FSC.south)+(20,0)$) .. controls +(-90:600) and +(40:300) .. ($(Thread.north east)+(0,380)$) node[lbl,pos=0.4]{-m\_FilesystemOverride};
\draw[agg] ($(Process.north east)+(0,460)$) .. controls +(0:90) and +(0:90) .. ($(Process.north east)+(0,600)$) node[lbl,pos=0.5,right]{-m\_pInitProcess\\-m\_pParent\\-m\_pVforkOwner};
\draw[agg] ($(Process.south east)+(-20,0)$) .. controls +(-60:200) and +(90:200) .. (Thread.north);
\draw[agg] ($(TP.south)+(0,0)$) .. controls +(-95:250) and +(0:300) .. ($(Thread.north east)+(0,440)$);
\draw[agg] (TTA.south) .. controls +(-95:250) and +(0:400) .. ($(Thread.north east)+(0,470)$);
\draw[agg] (ListEvent.south) .. controls +(-95:250) and +(0:500) .. ($(Thread.north east)+(0,500)$);
\draw[agg] (ASS.south) .. controls +(-95:250) and +(0:600) .. ($(Thread.north east)+(0,525)$);
\draw[agg] (EP.south) .. controls +(-95:250) and +(0:700) .. ($(Thread.north east)+(0,540)$);
\draw[agg] ($(Thread.north east)+(0,1010)$) .. controls +(0:120) and +(0:120) .. ($(Thread.north east)+(0,1250)$) node[lbl,right,pos=0.5]{-m\_AffinityNext\\-m\_pReapNext\\-m\_pReadyNext};
\draw[agg] (Stack.south) .. controls +(-90:400) and +(180:600) .. ($(Thread.north west)+(0,420)$) node[lbl,pos=0.75]{+m\_pKernelStack\\+m\_pUserStack};
\draw[agg] ($(DSR.south)+(20,0)$) .. controls +(-80:400) and +(180:500) .. ($(Thread.north west)+(0,460)$);
\draw[agg] ($(DSR.north east)+(0,60)$) .. controls +(0:70) and +(0:70) .. ($(DSR.south east)+(0,-50)$) node[lbl,right,pos=0.5]{+next};
\draw[agg] ($(Vector.north)+(20,0)$) .. controls +(90:600) and +(200:400) .. ($(Process.south west)+(0,-40)$) node[lbl,pos=0.2]{-m\_SuspensionWaiters\\-m\_TerminationWaiters\\-m\_ThreadJoinWaiters};
\draw[agg] ($(Thread.south west)+(20,0)$) .. controls +(250:200) and +(20:300) .. ($(Vector.north east)+(0,15)$);
\draw[agg] ($(SL.north)+(-30,0)$) .. controls +(90:800) and +(190:600) .. ($(Thread.north west)+(0,500)$) node[lbl,pos=0.7]{-m\_StateLevels};
\draw[agg] (Channel.south) .. controls +(-90:150) and +(90:150) .. ($(Waiter.north west)+(10,0)$) node[lbl,pos=0.5]{+channel};
\draw[agg] ($(Thread.south west)+(60,0)$) .. controls +(240:200) and +(30:200) .. (Waiter.north east) node[lbl,pos=0.3]{+thread};
\draw[agg] ($(Waiter.north east)+(0,160)$) .. controls +(0:90) and +(0:90) .. ($(Waiter.north east)+(0,260)$) node[lbl,right,pos=0.5]{+next\\+notificationNext\\+previous};
\draw[agg] ($(Waiter.south)+(-40,0)$) .. controls +(250:250) and +(90:250) .. ($(SL.north)+(40,0)$) node[lbl,pos=0.6]{+m\_Waiter};
\draw[agg] ($(WQ.north)+(-20,0)$) .. controls +(90:150) and +(270:150) .. ($(Waiter.south)+(-60,0)$) node[lbl,pos=0.5]{+queue};
\draw[agg] ($(Waiter.south)+(50,0)$) .. controls +(270:150) and +(90:150) .. ($(WQ.north)+(70,0)$) node[lbl,pos=0.5]{-m\_pFirstWaiter\\-m\_pLastWaiter};
\draw[agg] ($(WQ.north east)+(0,90)$) .. controls +(20:400) and +(200:400) .. ($(Thread.north west)+(0,560)$) node[lbl,pos=0.55]{-m\_AffinityWaiters\\-m\_EventSenderDrainWaiters\\-m\_EventWaiters\\-m\_ExternalLeaseWaiters\\-m\_JoinWaiters};
\draw[agg] ($(WQ.north west)+(0,20)$) .. controls +(180:500) and +(0:300) .. ($(Process.south west)+(30,0)$);
\draw[agg] ($(Thread.south west)+(100,0)$) .. controls +(250:600) and +(60:400) .. ($(PPS.north east)+(0,15)$) node[lbl,pos=0.6]{-m\_AffinityHead\\-m\_AffinityTail\\-m\_pIdleThread};
\draw[agg] ($(WQ.south west)+(0,-100)$) .. controls +(200:500) and +(0:300) .. ($(Sem.north east)+(0,200)$) node[lbl,pos=0.6]{-m\_Waiters};
\draw[agg] ($(WQ.south)+(-40,0)$) .. controls +(260:200) and +(80:200) .. ($(SWW.north)+(20,0)$) node[lbl,pos=0.45]{-m\_pWaiters};
\draw[agg] ($(WQ.south)+(60,0)$) .. controls +(-80:200) and +(90:200) .. ($(CV.north)+(0,0)$) node[lbl,pos=0.45]{-m\_Waiters};
\draw[agg] ($(PPS.north west)+(20,0)$) .. controls +(110:400) and +(-80:300) .. ($(SL.south)+(60,0)$) node[lbl,pos=0.55]{+scheduler};
\draw[agg] ($(SWW.north east)+(0,20)$) .. controls +(0:60) and +(0:60) .. ($(SWW.south east)+(0,-10)$) node[lbl,right,pos=0.5]{-m\_pNext};
\draw[agg] (SWW.south) .. controls +(-90:300) and +(180:300) .. ($(PPS.north west)+(0,300)$) node[lbl,pos=0.55]{-m\_TimeAccountingWorkerWake\\-m\_pIdleWorkerWake};
\draw[agg] (CV.south) .. controls +(-90:150) and +(90:150) .. ($(PPS.north)+(-60,0)$) node[lbl,pos=0.6]{-m\_NewThreadDataCondition};
\draw[agg] (SA.south) .. controls +(-100:150) and +(50:150) .. ($(PPS.north east)+(0,40)$) node[lbl,pos=0.45]{-m\_pSchedulingAlgorithm};
\draw[agg] (IMQ.south) .. controls +(-95:400) and +(10:200) .. ($(PPS.north east)+(0,280)$) node[lbl,pos=0.3]{-m\_DeferredThreadReaps};
\draw[agg] (ListVoid.south) .. controls +(-100:300) and +(10:300) .. ($(PPS.north east)+(0,310)$) node[lbl,pos=0.5]{-m\_DeferredNewThreadData\\-m\_NewThreadData};
\draw[agg] (DTAWS.south) .. controls +(-100:300) and +(10:400) .. ($(PPS.north east)+(0,335)$) node[lbl,pos=0.5]{-m\_TimeAccountingState};
\draw[agg] (OT.south) .. controls +(-100:600) and +(5:500) .. ($(PPS.north east)+(0,360)$) node[lbl,pos=0.35]{-m\_NewThreadWorker\\-m\_TimeAccountingWorker};
\draw[agg] ($(Thread.south)+(60,0)$) .. controls +(-70:300) and +(100:300) .. (OT.north);
\draw[agg] ($(Thread.south)+(-20,0)$) -- ($(DTRN.north)+(-20,0)$);
\draw[agg] ($(DTRN.north east)+(0,40)$) .. controls +(0:60) and +(0:60) .. ($(DTRN.south east)+(0,-8)$);
\draw[agg] ($(DTRN.south)+(-30,0)$) .. controls +(-90:300) and +(90:300) .. (IMQ.north);
\end{tikzpicture}
\end{document}
